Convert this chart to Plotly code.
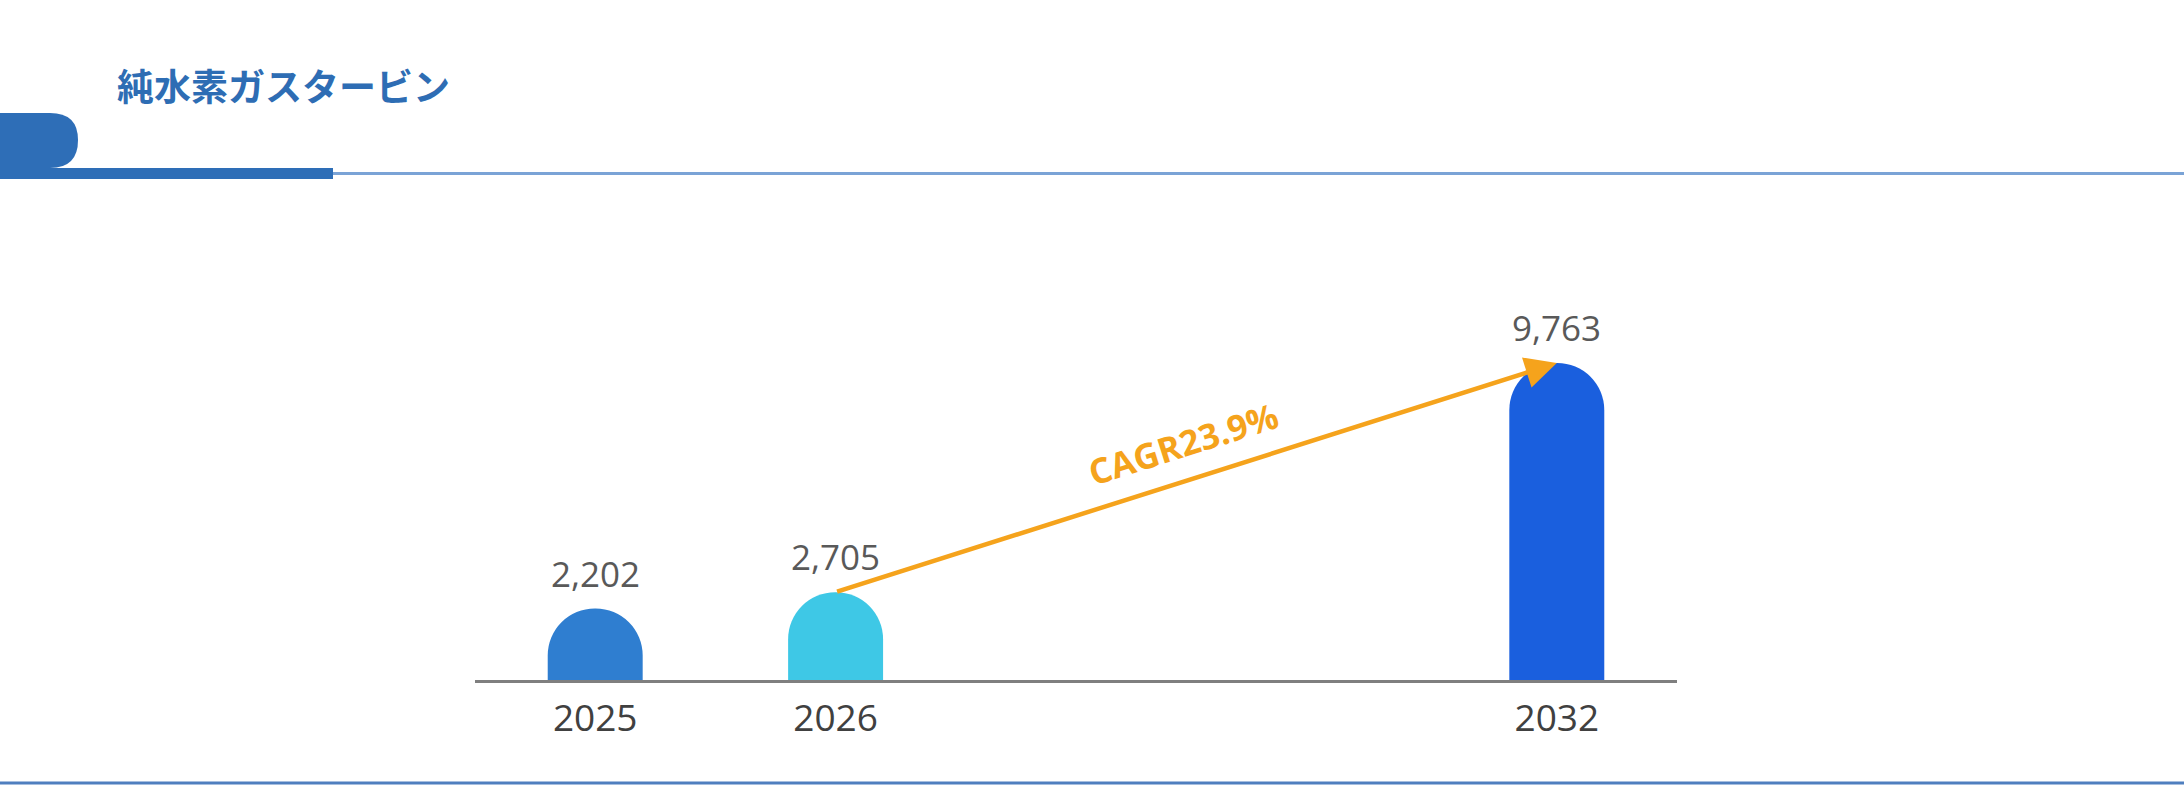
import plotly.graph_objects as go

# ---- data ----
years = ["2025", "2026", "2032"]
values = [2202, 2705, 9763]
value_labels = ["2,202", "2,705", "9,763"]
bar_colors = ["#2F7ED0", "#3EC8E6", "#1A5FDE"]
category_slots = ["2025", "2026", " ", "  ", "2032"]
title_text = "純水素ガスタービン"
cagr_text = "CAGR23.9%"

W, H = 2184, 811
L, R, T, B = 475, 1677, 230, 680
units_per_px = 30.8
ymax = (B - T) * units_per_px


def fx(px):
    return (px - L) / (R - L)


def fy(py):
    return (B - py) / (B - T)


fig = go.Figure()
fig.add_trace(go.Bar(
    x=years, y=values,
    marker=dict(color=bar_colors, cornerradius="50%", line=dict(width=0)),
    width=0.395,
    hoverinfo="skip",
))

annotations = []
for yr, v, lab in zip(years, values, value_labels):
    annotations.append(dict(
        x=category_slots.index(yr), y=v, xref="x", yref="y",
        text=lab, showarrow=False, yanchor="bottom", yshift=10,
        font=dict(family="Open Sans", size=35, color="#595959"),
    ))

# CAGR arrow from 2026 top to 2032 top
i0 = category_slots.index(years[1])
i1 = category_slots.index(years[2])
annotations.append(dict(
    x=i1, y=values[2], ax=i0, ay=values[1],
    xref="x", yref="y", axref="x", ayref="y",
    text="", showarrow=True, arrowhead=2, arrowsize=1.4, arrowwidth=4.5,
    arrowcolor="#F5A31C", standoff=0, startstandoff=0,
))
annotations.append(dict(
    x=(i0 + i1) / 2, y=(values[1] + values[2]) / 2, xref="x", yref="y",
    text="<b>" + cagr_text + "</b>", showarrow=False, textangle=-17.5,
    xshift=-13, yshift=34,
    font=dict(family="Open Sans", size=35, color="#F5A31C"),
))

# title
annotations.append(dict(
    x=fx(115), y=fy(85), xref="paper", yref="paper",
    xanchor="left", yanchor="middle", showarrow=False,
    text="<b>" + title_text + "</b>",
    font=dict(family="Noto Sans CJK JP", size=37, color="#2E6DB4"),
))

tab_color = "#2E6EB7"
p = [(0, 113), (50, 113), (78, 113), (78, 140), (78, 168), (50, 168), (0, 168)]
path = (f"M {fx(p[0][0])},{fy(p[0][1])} L {fx(p[1][0])},{fy(p[1][1])} "
        f"Q {fx(p[2][0])},{fy(p[2][1])} {fx(p[3][0])},{fy(p[3][1])} "
        f"Q {fx(p[4][0])},{fy(p[4][1])} {fx(p[5][0])},{fy(p[5][1])} "
        f"L {fx(p[6][0])},{fy(p[6][1])} Z")

shapes = [
    dict(type="path", xref="paper", yref="paper", path=path,
         fillcolor=tab_color, line=dict(width=0)),
    dict(type="rect", xref="paper", yref="paper",
         x0=fx(0), x1=fx(333), y0=fy(179), y1=fy(168),
         fillcolor=tab_color, line=dict(width=0)),
    dict(type="line", xref="paper", yref="paper",
         x0=fx(333), x1=fx(W), y0=fy(173.5), y1=fy(173.5),
         line=dict(color="#7AA3D6", width=3)),
    dict(type="line", xref="paper", yref="paper",
         x0=fx(0), x1=fx(W), y0=fy(783), y1=fy(783),
         line=dict(color="#4F7FBF", width=3)),
]

fig.update_layout(
    width=W, height=H,
    margin=dict(l=L, r=W - R, t=T, b=H - B, pad=0),
    paper_bgcolor="white", plot_bgcolor="white",
    showlegend=False,
    annotations=annotations,
    shapes=shapes,
    xaxis=dict(
        type="category", categoryorder="array", categoryarray=category_slots,
        range=[-0.5, 4.5], showgrid=False, zeroline=False,
        showline=True, linecolor="#7F7F7F", linewidth=3,
        ticks="", tickfont=dict(family="Open Sans", size=37, color="#404040"),
        ticklabelstandoff=4, fixedrange=True,
    ),
    yaxis=dict(range=[0, ymax], visible=False, fixedrange=True),
)

fig.write_html(
    "out.html",
    config={"displayModeBar": False},
    post_script="document.body.style.margin='0';document.body.style.overflow='hidden';",
)
